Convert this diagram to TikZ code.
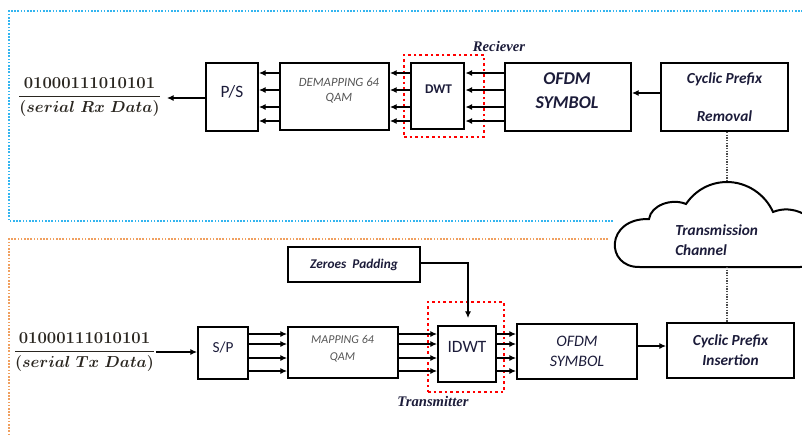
\documentclass[tikz,border=0pt]{standalone}
\usepackage{amsmath}
\usepackage{fontspec}
\newfontfamily\carl{Carlito}
\newfontfamily\timesf{Liberation Serif}
\usetikzlibrary{arrows.meta}
\definecolor{ink}{HTML}{1C1C3A}
\definecolor{skyb}{HTML}{33B5F0}
\definecolor{orng}{HTML}{F0A060}
\definecolor{grayt}{HTML}{555555}
\definecolor{fracc}{HTML}{2A2620}
\newcommand\numtxt[1]{\text{\fontsize{12.5}{15}\selectfont\bfseries #1}}
\begin{document}
\begin{tikzpicture}[x=0.75pt,y=-0.75pt,
  box/.style={draw, line width=1.5pt, inner sep=0pt, align=center, text=ink},
  arr/.style={line width=0.8pt, -{Latex[length=5pt,width=4.5pt]}},
  reddot/.style={draw=red, line width=2pt, dash pattern=on 2pt off 2.2pt, inner sep=0pt},
  blued/.style={draw=skyb, line width=1.5pt, dash pattern=on 1.2pt off 1.2pt},
  orad/.style={draw=orng, line width=1.5pt, dash pattern=on 1.2pt off 1.2pt},
  conn/.style={draw=black!70, line width=0.8pt, dash pattern=on 1pt off 1pt},
  lbl/.style={font=\timesf\bfseries\itshape\fontsize{11}{13}\selectfont, text=ink},
  txt/.style={text=ink, inner sep=0pt, align=center},
  frac/.style={text=fracc, font=\fontsize{12}{15}\selectfont\boldmath, inner sep=0pt}
]
\useasboundingbox (0,0) rectangle (802,436);
% region borders
\draw[blued] (613,221) -- (9,221) -- (9,11) -- (802,11);
\draw[orad] (608,239) -- (9,239) -- (9,436);

% ---------------- receiver ----------------
\node[frac] (rxdata) at (89.5,97)
  {$\dfrac{\numtxt{01000111010101}}{(serial\ Rx\ Data)}$};
\node[box, minimum width=39pt, minimum height=51pt] (ps) at (232,97) {};
\node[txt, font=\carl\fontsize{13}{15}\selectfont] (pst) at (232,92) {P/S};
\node[box, minimum width=81.75pt, minimum height=50.25pt] (demap) at (334.5,96.5) {};
\node[txt, font=\carl\itshape\fontsize{9.5}{11.25}\selectfont, text=grayt] (demapt) at (339,90.5) {DEMAPPING 64\\QAM};
\node[reddot, minimum width=60pt, minimum height=61.5pt] (rxgrp) at (444,96) {};
\node[box, line width=2.2pt, minimum width=39.75pt, minimum height=49.5pt] (dwt) at (437.5,96) {};
\node[txt, font=\carl\bfseries\fontsize{10}{12}\selectfont] (dwtt) at (438.5,89) {DWT};
\node[box, minimum width=94.5pt, minimum height=51pt] (ofdmr) at (568,97) {};
\node[txt, font=\carl\bfseries\itshape\fontsize{13.5}{18}\selectfont] (ofdmrt) at (567,91) {OFDM\\SYMBOL};
\node[box, minimum width=95.25pt, minimum height=51pt, font=\carl\bfseries\itshape\fontsize{11.5}{28.5}\selectfont] (cpr) at (724.5,97) {Cyclic Prefix\\Removal};
\node[lbl] (rxlbl) at (499,46) {Reciever};

\coordinate (rxend) at (167,98);
\draw[arr] (ps.west |- rxend) -- (rxend);
\foreach \yy in {73,90,107,121}{
  \draw[arr] (demap.west |- 0,\yy) -- (ps.east |- 0,\yy);
  \draw[arr] (dwt.west |- 0,\yy) -- (demap.east |- 0,\yy);
  \draw[arr] (ofdmr.west |- 0,\yy) -- (dwt.east |- 0,\yy);
}
\draw[arr] (cpr.west |- 0,93) -- (ofdmr.east |- 0,93);

% ---------------- channel ----------------
\begin{scope}
\clip (0,0) rectangle (802,436);
\draw[line width=1.5pt, fill=white] (640,267) .. controls (605,268) and (605,218) .. (649,219)
  .. controls (651,205) and (672,198) .. (686,204)
  .. controls (695.3,190.2) and (710.4,182) .. (727,182)
  .. controls (746.7,182) and (765,194) .. (773,212)
  .. controls (792,204) and (818,215) .. (822,240)
  .. controls (826,262) and (815,267) .. (800,267) -- cycle;
\end{scope}
\node[text=ink, inner sep=0pt, align=left, anchor=west, font=\carl\bfseries\itshape\fontsize{11.5}{15}\selectfont] (chan) at (675,240) {Transmission\\Channel};
\coordinate (ctop) at (727,182);
\coordinate (cbot) at (727,267);

% ---------------- transmitter ----------------
\node[frac] (txdata) at (84.5,352)
  {$\dfrac{\numtxt{01000111010101}}{(serial\ Tx\ Data)}$};
\node[box, minimum width=37.5pt, minimum height=39pt] (sp) at (223,353) {};
\node[txt, font=\carl\fontsize{11.5}{14}\selectfont] (spt) at (223,347) {S/P};
\node[box, minimum width=82.5pt, minimum height=38.25pt] (map) at (343,352.5) {};
\node[txt, font=\carl\itshape\fontsize{9}{12.75}\selectfont, text=grayt] (mapt) at (342.5,348.5) {MAPPING 64\\QAM};
\node[box, minimum width=99pt, minimum height=26.25pt, font=\carl\bfseries\itshape\fontsize{10}{12}\selectfont] (zp) at (354,264.5) {Zeroes\ \ Padding};
\node[reddot, minimum width=57pt, minimum height=67.5pt] (txgrp) at (466,347) {};
\node[box, minimum width=43.5pt, minimum height=42pt] (idwt) at (467,354) {};
\node[txt, font=\carl\fontsize{13}{15}\selectfont] (idwtt) at (467,347) {IDWT};
\node[box, minimum width=90pt, minimum height=41.25pt, font=\carl\itshape\fontsize{12}{15}\selectfont] (ofdmt) at (577,351.5) {OFDM\\SYMBOL};
\node[box, minimum width=95.25pt, minimum height=41.25pt, font=\carl\bfseries\itshape\fontsize{11.5}{15}\selectfont] (cpi) at (730.5,350.5) {Cyclic Prefix\\Insertion};
\node[lbl] (txlbl) at (433,401) {Transmitter};

\draw[arr] (txdata.east |- 0,352) -- (sp.west |- 0,352);
\foreach \yy in {334,344,358,371}{
  \draw[arr] (sp.east |- 0,\yy) -- (map.west |- 0,\yy);
  \draw[arr] (map.east |- 0,\yy) -- (idwt.west |- 0,\yy);
  \draw[arr] (idwt.east |- 0,\yy) -- (ofdmt.west |- 0,\yy);
}
\draw[arr] (ofdmt.east |- 0,346) -- (cpi.west |- 0,346);
\coordinate (zpturn) at (468,263);
\draw[arr] (zp.east |- zpturn) -- (zpturn) -- (zpturn |- 0,318);

% dotted links to the channel
\draw[conn] (ctop |- cpr.south) -- (ctop);
\draw[conn] (cbot) -- (cbot |- cpi.north);
\end{tikzpicture}
\end{document}
